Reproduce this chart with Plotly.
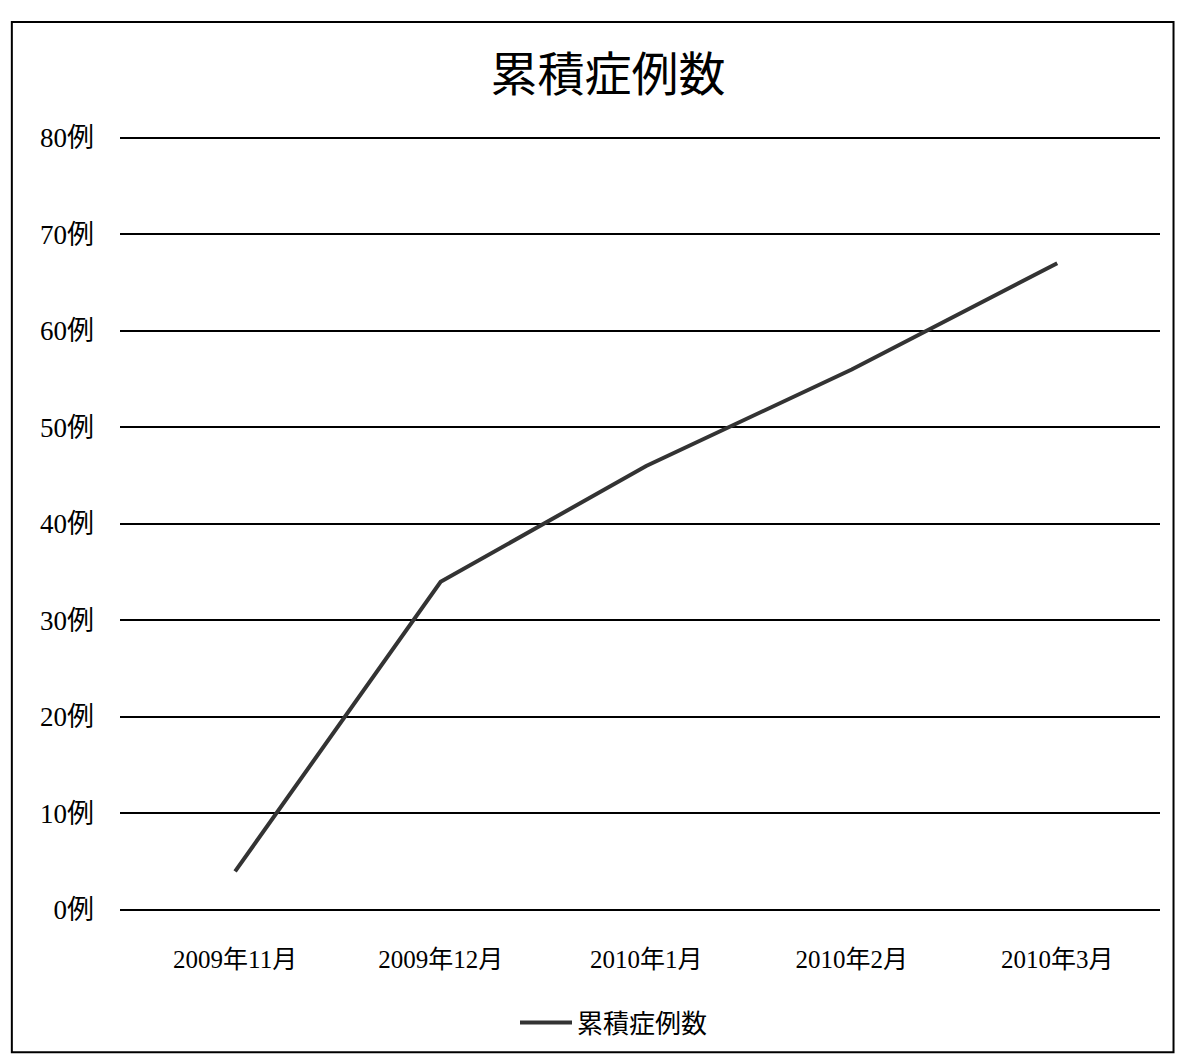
import plotly.graph_objects as go

months = ["2009年11月", "2009年12月", "2010年1月", "2010年2月", "2010年3月"]
cumulative_cases = [4, 34, 46, 56, 67]
series_name = "累積症例数"
y_ticks = [0, 10, 20, 30, 40, 50, 60, 70, 80]
y_tick_labels = [f"{v}例" for v in y_ticks]

serif = "Liberation Serif, Noto Sans CJK JP, serif"
sans = "Noto Sans CJK JP, sans-serif"

fig = go.Figure()
fig.add_trace(go.Scatter(
    x=list(range(len(months))), y=cumulative_cases, mode="lines",
    name=series_name,
    line=dict(color="#333333", width=4),
))

fig.update_layout(
    width=1188, height=1060,
    margin=dict(l=112, r=36, t=125, b=158),
    paper_bgcolor="white", plot_bgcolor="white",
    title=dict(text="累積症例数", x=0.505, xanchor="center", y=0.937, yanchor="middle",
               font=dict(family=sans, size=47, color="black")),
    showlegend=True,
    legend=dict(orientation="h", x=0.475, xanchor="center", y=-0.145, yanchor="middle",
                font=dict(family=sans, size=26, color="black"), itemwidth=52),
    xaxis=dict(
        range=[-0.56, 4.5], tickmode="array",
        tickvals=list(range(len(months))), ticktext=months,
        showgrid=False, zeroline=False, showline=False, ticks="",
        ticklabelstandoff=32,
        tickfont=dict(family=serif, size=25, color="black"),
    ),
    yaxis=dict(
        range=[0, 80.5], tickmode="array", tickvals=y_ticks, ticktext=y_tick_labels,
        showgrid=True, gridcolor="black", gridwidth=1.5,
        zeroline=True, zerolinecolor="black", zerolinewidth=1.5,
        showline=False, ticks="", ticklabelstandoff=25,
        tickfont=dict(family=serif, size=27, color="black"),
    ),
    shapes=[dict(type="rect", xref="paper", yref="paper",
                 x0=-0.104, x1=1.013, y0=-0.183, y1=1.143,
                 line=dict(color="black", width=2), fillcolor="rgba(0,0,0,0)")],
)

fig.write_html("out.html")
